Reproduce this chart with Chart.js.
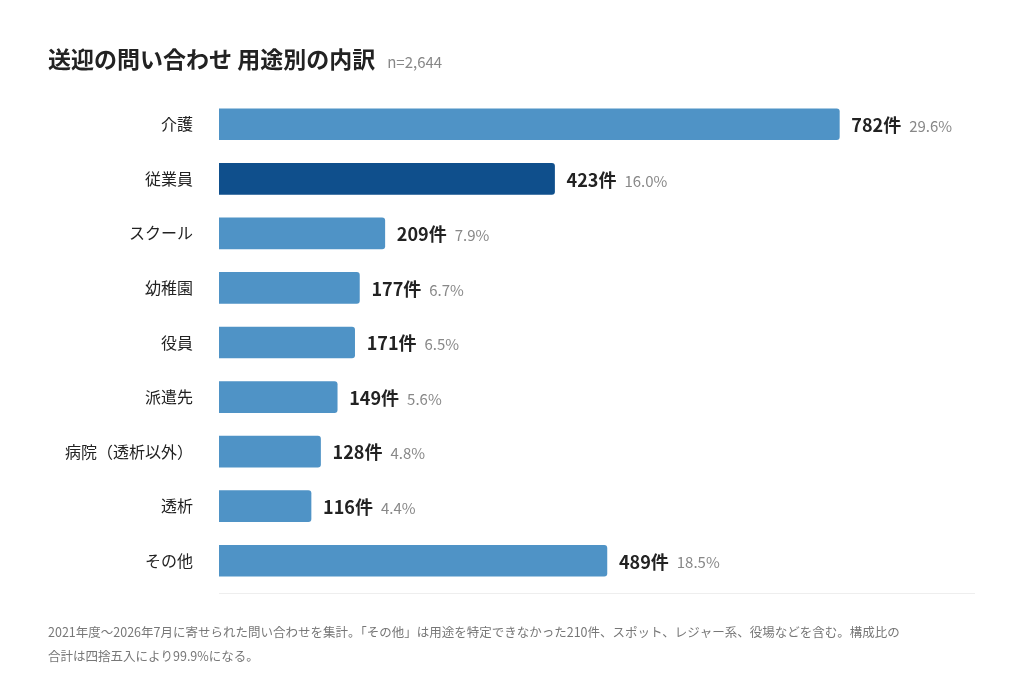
<!DOCTYPE html>
<html><head><meta charset="utf-8">
<script src="https://cdn.jsdelivr.net/npm/chart.js@4/dist/chart.umd.min.js"></script>
<style>body{margin:0;background:#fff}</style>
</head><body>
<canvas id="c" width="1024" height="680"></canvas>
<script>
var categories = ["介護", "従業員", "スクール", "幼稚園", "役員", "派遣先", "病院（透析以外）", "透析", "その他"];
var counts = [782, 423, 209, 177, 171, 149, 128, 116, 489];
var shares = ["29.6%", "16.0%", "7.9%", "6.7%", "6.5%", "5.6%", "4.8%", "4.4%", "18.5%"];
var highlight = "従業員";

var FONT = "'Noto Sans CJK JP', 'Noto Sans', sans-serif";

var decor = {
	id: "decor",
	afterDraw: function (chart) {
		var c = chart.ctx;
		c.save();
		c.textBaseline = "alphabetic";
		c.fillStyle = "#222";
		c.font = "bold 23px " + FONT;
		c.fillText("送迎の問い合わせ 用途別の内訳", 48, 68);
		var w = c.measureText("送迎の問い合わせ 用途別の内訳").width;
		c.fillStyle = "#888";
		c.font = "15px " + FONT;
		c.fillText("n=2,644", 48 + w + 12, 68);

		var meta = chart.getDatasetMeta(0);
		c.textBaseline = "middle";
		meta.data.forEach(function (bar, i) {
			var x = bar.x + 12;
			c.font = "bold 18px " + FONT;
			c.fillStyle = "#222";
			var t = counts[i] + "件";
			c.fillText(t, x, bar.y + 1);
			var tw = c.measureText(t).width;
			c.font = "15px " + FONT;
			c.fillStyle = "#888";
			c.fillText(shares[i], x + tw + 8, bar.y + 2);
		});

		c.strokeStyle = "#eee";
		c.lineWidth = 1;
		c.beginPath();
		c.moveTo(219, 593.5);
		c.lineTo(975, 593.5);
		c.stroke();

		c.textBaseline = "alphabetic";
		c.font = "12.5px " + FONT;
		c.fillStyle = "#777";
		c.fillText("2021年度〜2026年7月に寄せられた問い合わせを集計。「その他」は用途を特定できなかった210件、スポット、レジャー系、役場などを含む。構成比の", 48, 637);
		c.fillText("合計は四捨五入により99.9%になる。", 48, 661);
		c.restore();
	}
};

new Chart(document.getElementById("c"), {
	type: "bar",
	data: {
		labels: categories,
		datasets: [{
			data: counts,
			backgroundColor: categories.map(function (l) { return l === highlight ? "#0f4f8c" : "#4f93c6"; }),
			barThickness: 31,
			borderRadius: { topRight: 3, bottomRight: 3 },
			borderSkipped: "start"
		}]
	},
	options: {
		indexAxis: "y",
		responsive: false,
		animation: false,
		layout: { padding: { top: 97, bottom: 92, left: 0, right: 49 } },
		plugins: { legend: { display: false }, tooltip: { enabled: false } },
		scales: {
			x: { display: false, min: 0, max: 953 },
			y: {
				grid: { display: false },
				border: { display: false },
				afterFit: function (s) { s.width = 219; },
				ticks: { color: "#222", padding: 18, font: { size: 16, family: FONT } }
			}
		}
	},
	plugins: [decor]
});
</script>
</body></html>
